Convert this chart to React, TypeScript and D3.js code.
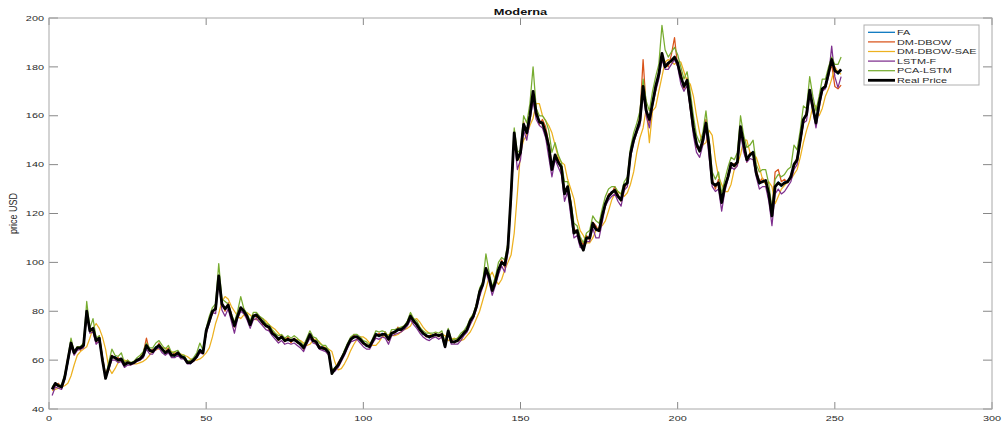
import React from 'react';
import * as d3 from 'd3';

const seriesNames = ['FA', 'DM-DBOW', 'DM-DBOW-SAE', 'LSTM-F', 'PCA-LSTM', 'Real Price'];
const seriesColors = ['#0072BD', '#D95319', '#EDB120', '#7E2F8E', '#77AC30', '#000000'];
const xTicks = [0, 50, 100, 150, 200, 250, 300];
const yTicks = [40, 60, 80, 100, 120, 140, 160, 180, 200];

const realPrice = [
  48, 50.5, 49.5, 49, 53, 60, 67, 63, 65, 65,
  66, 80, 72, 73, 68, 69, 60, 52.5, 57, 61.5,
  61, 60, 60.5, 58, 59, 58.5, 59, 60, 60.5, 62,
  66, 64, 63.5, 65, 66, 64.5, 63, 64, 62, 62,
  63, 61.5, 61, 59, 59, 60, 61.5, 64, 63, 72,
  76, 80, 81, 94.5, 83, 81, 82.5, 78, 74, 78,
  81.5, 80, 78, 74.5, 78, 78.5, 77, 75.5, 74, 73.5,
  71, 70, 68.5, 69.5, 68, 68.5, 68, 68.5, 67.5, 66.5,
  65, 67.5, 70.5, 68, 67.5, 65, 65, 64.5, 63, 54.5,
  56.5, 58, 60.5, 63, 66, 68.5, 69.5, 69.5, 68.5, 67,
  66, 65.5, 68, 70.5, 70, 70.5, 70.5, 68.5, 71, 71.5,
  72.5, 72.5, 73.5, 75, 78, 76, 74.5, 72.5, 71, 70,
  69.5, 70, 70.5, 70, 70.5, 65.5, 72, 67.5, 67.5, 68,
  69.5, 71, 72.5, 76, 78, 82, 88, 91, 97.5, 94,
  88.5, 92, 97, 100, 99, 106, 128, 153, 142, 145,
  156.5, 153, 160, 170, 161, 157.5, 157, 153, 147.5, 138,
  144, 141, 139, 128, 131, 123, 112, 113, 108, 105,
  110, 110, 116, 113.5, 113, 119, 124, 127, 128.5, 129.5,
  127, 125.5, 131.5, 132.5, 144.5, 150, 154, 158, 172, 162,
  158.5, 165, 172, 177, 185.5, 180, 181.5, 182.5, 184, 181.5,
  176, 172, 174.5, 165, 155, 148.5, 145.5, 150, 157, 147.5,
  132.5, 131.5, 132.5, 124.5, 131, 135, 140.5, 139.5, 141, 155.5,
  148.5, 142, 144, 145, 136.5, 132.5, 133, 133.5, 128, 119,
  131, 132.5, 131.5, 132.5, 133, 135, 140, 142, 150, 158.5,
  160.5, 170.5, 163.5, 157, 165, 171, 172, 177.5, 183, 178.5,
  177.5, 179,
];

const faPred = [
  48.5, 50, 50, 49.5, 52, 59, 66.5, 63.5, 64.5, 65.5,
  66.5, 79, 72.5, 72.5, 68.5, 68.5, 61, 53, 56.5, 61,
  61.5, 60, 60, 58.5, 58.5, 59, 59, 60, 61, 62.5,
  65.5, 64.5, 63.5, 65.5, 65.5, 64, 63.5, 63.5, 62.5, 61.5,
  63, 61, 61.5, 59.5, 58.5, 60.5, 61, 64.5, 63.5, 71,
  76.5, 79.5, 81.5, 93.5, 83.5, 80.5, 82, 78.5, 74.5, 77.5,
  81, 80.5, 77.5, 75, 77.5, 78, 77.5, 75, 74.5, 73,
  71.5, 69.5, 69, 69, 68.5, 68, 68.5, 68, 68, 66,
  65.5, 67, 70, 68.5, 67, 65.5, 65.5, 64, 63.5, 55,
  56, 58.5, 60, 63.5, 65.5, 69, 69, 70, 68, 67.5,
  65.5, 66, 67.5, 71, 69.5, 71, 70, 69, 70.5, 72,
  72, 73, 73, 75.5, 77.5, 76.5, 74, 73, 70.5, 70.5,
  69, 70.5, 70, 70.5, 70, 66.5, 71.5, 68, 67, 68.5,
  69, 71.5, 72, 76.5, 77.5, 82.5, 87.5, 91.5, 97, 94.5,
  88, 92.5, 96.5, 100.5, 98.5, 107, 127, 152, 143, 144.5,
  157, 152.5, 161, 168.5, 161.5, 157, 157.5, 152.5, 148, 139,
  143.5, 141.5, 138.5, 129, 130.5, 124, 112.5, 112.5, 109, 106,
  109.5, 110.5, 115.5, 114, 113.5, 118.5, 124.5, 126.5, 129, 129,
  127.5, 126, 131, 133, 144, 150.5, 153.5, 158.5, 171, 162.5,
  158, 165.5, 171.5, 177.5, 184.5, 180.5, 181, 183, 183.5, 182,
  175.5, 172.5, 174, 165.5, 155.5, 148, 146, 149.5, 157.5, 147,
  133, 131, 133, 125, 130.5, 135.5, 140, 140, 141.5, 154.5,
  149, 142.5, 143.5, 145.5, 137, 132, 133.5, 133, 128.5, 120,
  130.5, 133, 131, 133, 133.5, 134.5, 140.5, 141.5, 150.5, 158,
  161, 169.5, 164, 157.5, 164.5, 171.5, 171.5, 178, 182, 179,
  177, 178.5,
];

const dmDbowPred = [
  48, 49.5, 50.5, 48.5, 53.5, 61, 66, 62.5, 65.5, 64,
  67, 78, 73, 72, 67, 70, 61.5, 54, 57.5, 62,
  60.5, 61, 59.5, 58, 60, 58, 59.5, 59.5, 61, 63,
  69, 63.5, 64.5, 64, 67, 64, 63.5, 65, 62, 63,
  62.5, 62, 60.5, 59.5, 59.5, 59.5, 62, 63.5, 64, 70.5,
  77, 79, 82, 92, 84, 80, 83.5, 79, 73.5, 79,
  80.5, 81, 77, 75.5, 78.5, 77.5, 78, 74.5, 75, 72.5,
  72, 70, 68, 70, 67.5, 69.5, 67, 69, 67, 67,
  64.5, 68, 69.5, 69, 66.5, 66, 64.5, 65, 62.5, 56,
  56, 59, 61, 62.5, 66.5, 68, 70.5, 69, 69, 66.5,
  66.5, 65, 68.5, 70, 71, 70, 71.5, 68, 71.5, 71,
  73.5, 72, 74, 74.5, 79, 75.5, 75, 72, 71.5, 69.5,
  70, 69.5, 71, 69.5, 71, 66, 71, 68.5, 67, 69,
  69, 72, 72, 77, 77.5, 83, 87, 92, 96.5, 95,
  88, 93, 96, 101, 98, 108, 126, 151, 144, 144,
  157.5, 152, 161.5, 167, 163, 156.5, 158.5, 155.5, 148.5, 140,
  142, 143, 137.5, 130, 130, 125, 114, 112, 110, 107,
  111, 109, 116.5, 115, 112.5, 120, 123, 128, 128, 131,
  128, 125, 130, 133, 143, 151, 153, 160, 183, 163,
  157, 166, 170.5, 178, 182, 182, 180, 185, 192, 180,
  178, 171, 175.5, 163, 157, 147, 147, 149, 158.5, 146,
  134, 130, 134, 126, 130, 136, 139.5, 140.5, 140, 154,
  150, 141, 145, 144, 138, 133, 134.5, 132, 130, 121,
  137, 138, 133, 134, 132.5, 136, 139, 143, 149, 157,
  162, 168.5, 165, 156, 166, 170, 173, 176.5, 181, 172,
  171, 172.5,
];

const dmDbowSaePred = [
  47.5, 48, 48.5, 49, 49.5, 50.5, 53.5, 58, 62, 63.5,
  64.5, 65.5, 69, 73, 75, 73, 69.5, 64.5, 57, 54.5,
  56.5, 59, 60, 60, 59.5, 59, 58.5, 58.5, 59, 59.5,
  60.5, 62, 64, 64.5, 64.5, 65, 65, 64, 63.5, 63,
  62.5, 62.5, 62, 61.5, 60.5, 60, 60, 60.5, 61.5, 63,
  65, 69.5, 75, 79, 84, 86, 85, 82, 80, 78,
  77, 78.5, 79.5, 78.5, 77, 76.5, 77, 77, 76, 74.5,
  73.5, 72.5, 71, 69.5, 69, 68.5, 68.5, 68, 68.5, 68,
  67, 66, 66.5, 68, 68.5, 67.5, 66, 65, 64.5, 63.5,
  59, 56, 56.5, 58.5, 61, 64, 66.5, 68.5, 69.5, 69.5,
  68.5, 67, 66, 66, 67.5, 69.5, 70, 70.5, 70, 70,
  70.5, 71.5, 72.5, 73, 74, 76.5, 77, 75.5, 73.5, 72,
  71, 70, 70, 70, 70.5, 70, 68, 68.5, 69, 68,
  68, 68.5, 70, 71.5, 74, 77, 80, 84.5, 89, 94,
  96, 93, 91, 93, 97, 100, 103, 112, 128, 145,
  150, 152, 156, 159, 165, 165, 160, 158, 156, 153,
  148, 143, 141, 140, 134, 130, 126, 118, 113, 111,
  108, 108, 110, 113, 114.5, 115, 117, 121, 125.5, 128,
  129, 128, 127, 128.5, 132, 137, 145, 151, 155, 163,
  149, 162, 163.5, 170, 176, 182, 183, 182, 181, 182.5,
  182, 178, 174, 173, 168, 160, 153, 148, 149, 154,
  152, 142, 135, 132, 129, 129, 132, 138, 140, 144,
  150, 150, 145, 144, 143, 139, 134, 132, 133, 131,
  124, 127, 130, 131.5, 133, 134, 136, 138, 143, 149,
  154, 158, 164, 164, 160, 163, 168, 171, 175, 180,
  178, 177,
];

const lstmFPred = [
  45.5, 49, 48.5, 48, 52, 59, 65.5, 62, 64, 64.5,
  65, 78.5, 71, 71.5, 66.5, 68, 59.5, 53, 56, 60,
  60, 59, 59.5, 57, 58, 58, 58.5, 59.5, 60, 61,
  64.5, 62.5, 62.5, 64.5, 65, 63, 62, 63, 61, 61,
  62, 60.5, 60.5, 58.5, 58.5, 59.5, 61, 63, 62.5, 71,
  75, 79.5, 79, 92.5, 80.5, 78, 81, 76, 71, 77,
  80, 79, 76.5, 73, 76.5, 77, 75.5, 74, 72.5, 72,
  70, 68.5, 67, 68, 66.5, 67, 66.5, 67, 66, 65,
  63.5, 66.5, 69, 67, 66.5, 64.5, 64, 63.5, 62, 55,
  55.5, 57, 59.5, 62, 65, 67.5, 68, 68.5, 67, 65.5,
  64.5, 64.5, 67, 69, 68.5, 69.5, 69, 66.5, 70, 70.5,
  71, 71.5, 72.5, 74, 76.5, 74.5, 73, 71, 69.5, 68.5,
  68, 69, 69.5, 68.5, 69.5, 65, 71, 66.5, 66.5, 66.5,
  68, 70, 71.5, 74.5, 77, 81, 86, 90, 96, 92,
  86.5, 90.5, 95, 98.5, 96, 104, 126, 151, 138, 142,
  154, 150, 158, 166, 158.5, 156, 155, 151, 143, 135,
  142, 139, 136, 125, 129, 119, 110, 111, 106, 106,
  108.5, 108.5, 114, 110, 110, 116.5, 123, 125.5, 127, 128,
  125, 123, 129.5, 131, 143, 149, 153, 156, 169, 160,
  155, 164, 170, 175, 183, 179, 179, 181, 183, 180,
  173, 170, 172.5, 163, 152, 145, 143, 148, 155, 143,
  131, 129, 130, 121, 129, 134, 139, 138, 139.5, 153,
  145, 141, 142.5, 142, 135, 130, 131, 131, 125, 115,
  128, 130, 128, 129, 131, 133, 138, 140, 149, 157,
  158, 168, 162, 155, 163, 170, 171, 176, 188.5, 176,
  171.5, 176,
];

const pcaLstmPred = [
  49, 50.5, 50, 49.5, 54, 61, 69, 63.5, 65.5, 65.5,
  67, 84, 73, 77, 69, 70, 61, 53, 59, 64.5,
  62, 61.5, 63, 59, 60, 59, 59.5, 61, 62, 63.5,
  67, 65, 65, 67, 68, 66, 64.5, 66, 63, 63.5,
  64, 62, 62, 59.5, 60, 61, 63, 67, 64, 73,
  78, 81.5, 83, 99.5, 85, 84, 83, 79, 75.5, 80,
  86, 81, 79, 76, 79.5, 79.5, 78, 77, 75, 74.5,
  72.5, 71, 70, 70.5, 69, 70, 69, 70, 69, 67.5,
  66, 69, 72, 69.5, 69, 67, 66, 66, 64, 56,
  57, 58.5, 61, 64, 67, 69.5, 70.5, 70.5, 69.5, 68,
  67.5, 66, 69, 72, 71.5, 72, 71.5, 69.5, 72.5, 72.5,
  73, 73.5, 74, 76, 79.5, 77, 76, 73.5, 72, 71,
  71, 71, 71.5, 71, 72, 67, 73, 68.5, 68.5, 69,
  71, 72, 74, 77, 79, 83, 89.5, 92, 103.5, 96,
  90, 94, 100, 102, 101, 108, 130, 155, 145, 146,
  160, 157, 165, 180, 163, 160, 160, 158, 154, 145,
  149, 144, 141, 133, 133, 125, 116, 115, 110.5, 108,
  112, 113, 119, 117, 116, 122, 127, 130, 131, 131,
  129, 128, 133, 135, 147, 153, 157, 162, 175, 166,
  162, 170, 176, 181, 197, 187, 184, 186, 188, 185,
  180, 175, 178, 170, 160, 152, 149, 153, 162, 150,
  137, 134, 137, 128, 134, 139, 143, 142, 145, 160,
  152, 147, 148, 150, 140, 137, 138, 138, 132, 122,
  134, 136, 135, 136, 138, 139, 148, 146, 154, 164,
  163, 176, 168, 162, 168, 175, 175, 180, 184, 181,
  181, 184,
];

const allSeries = [faPred, dmDbowPred, dmDbowSaePred, lstmFPred, pcaLstmPred, realPrice];

const FONT = '"Liberation Sans", Arial, Helvetica, sans-serif';

function SText(props: any) {
  const { x, y, sx = 1.45, anchor = 'start', size = 7.5, weight = 'normal', fill = '#2a2a2a', children } = props;
  return (
    <text
      transform={`translate(${x},${y}) scale(${sx},1)`}
      textAnchor={anchor}
      fontSize={size}
      fontWeight={weight}
      fontFamily={FONT}
      fill={fill}
    >
      {children}
    </text>
  );
}

export default function App() {
  const W = 1005;
  const H = 427;
  const left = 49, right = 992, top = 18, bottom = 409;
  const x = d3.scaleLinear().domain([0, 300]).range([left, right]);
  const y = d3.scaleLinear().domain([40, 200]).range([bottom, top]);
  const line = d3
    .line<number>()
    .x((_, i) => x(i + 1))
    .y((d) => y(d));

  const legendX = 864, legendY = 25, legendW = 115, legendH = 60;
  const rowH = 9.6;

  return (
    <svg
      width={W}
      height={H}
      style={{ position: 'fixed', left: 0, top: 0, background: '#fff' }}
      xmlns="http://www.w3.org/2000/svg"
    >
      <rect x={0} y={0} width={W} height={H} fill="#fff" />
      <defs>
        <clipPath id="plotClip">
          <rect x={left} y={top} width={right - left} height={bottom - top} />
        </clipPath>
      </defs>

      {xTicks.map((t) => (
        <g key={'xt' + t}>
          <line x1={x(t)} x2={x(t)} y1={bottom} y2={bottom - 7} stroke="#888" strokeWidth={1} />
          <line x1={x(t)} x2={x(t)} y1={top} y2={top + 7} stroke="#888" strokeWidth={1} />
          <SText x={x(t)} y={421} anchor="middle">{t}</SText>
        </g>
      ))}
      {yTicks.map((t) => (
        <g key={'yt' + t}>
          <line x1={left} x2={left + 9} y1={y(t)} y2={y(t)} stroke="#888" strokeWidth={1} />
          <line x1={right} x2={right - 9} y1={y(t)} y2={y(t)} stroke="#888" strokeWidth={1} />
          <SText x={44} y={y(t) + 2.7} anchor="end">{t}</SText>
        </g>
      ))}

      <g clipPath="url(#plotClip)">
        {allSeries.map((s, k) => (
          <path
            key={seriesNames[k]}
            d={line(s) || ''}
            fill="none"
            stroke={seriesColors[k]}
            strokeWidth={k === 5 ? 2.8 : 1.25}
            strokeLinejoin="round"
          />
        ))}
      </g>

      <rect x={left} y={top} width={right - left} height={bottom - top} fill="none" stroke="#a8a8a8" strokeWidth={1} />

      <SText x={(left + right) / 2} y={15} anchor="middle" size={9.5} weight="bold" sx={1.35} fill="#111">Moderna</SText>

      <text
        transform={`translate(17,${(top + bottom) / 2}) scale(1.3,1) rotate(-90)`}
        textAnchor="middle"
        fontSize={9}
        fontFamily={FONT}
        fill="#2a2a2a"
      >
        price USD
      </text>

      <rect x={legendX} y={legendY} width={legendW} height={legendH} fill="#fff" stroke="#b0b0b0" strokeWidth={1} />
      {seriesNames.map((name, k) => {
        const ry = legendY + 7.3 + k * rowH;
        return (
          <g key={'lg' + name}>
            <line
              x1={868}
              x2={895}
              y1={ry}
              y2={ry}
              stroke={seriesColors[k]}
              strokeWidth={k === 5 ? 2.8 : 1.25}
            />
            <SText x={897} y={ry + 2.7}>{name}</SText>
          </g>
        );
      })}
    </svg>
  );
}
